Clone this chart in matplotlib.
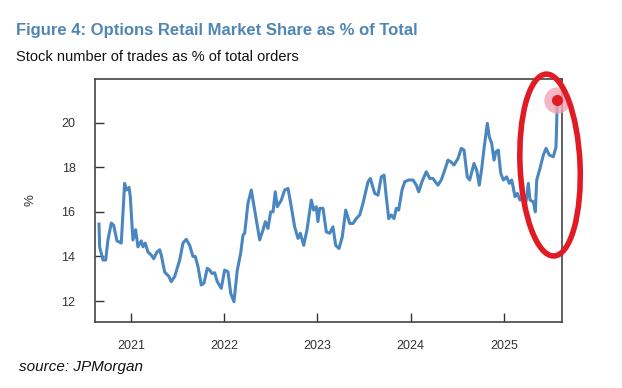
import matplotlib
matplotlib.use("Agg")
import matplotlib.pyplot as plt
import matplotlib.transforms as mtransforms
from matplotlib.patches import Ellipse
import numpy as np

plt.rcParams['font.family'] = ['Liberation Sans', 'DejaVu Sans']

# weekly-ish readings (decimal year, % of total orders)
years = [2020.657, 2020.664, 2020.700, 2020.729, 2020.753, 2020.789, 2020.814, 2020.850,
         2020.896, 2020.932, 2020.950, 2020.979, 2020.993, 2021.021, 2021.050, 2021.075,
         2021.111, 2021.129, 2021.153, 2021.182, 2021.218, 2021.244, 2021.279, 2021.308,
         2021.325, 2021.362, 2021.408, 2021.432, 2021.469, 2021.523, 2021.558, 2021.593,
         2021.630, 2021.665, 2021.690, 2021.719, 2021.754, 2021.783, 2021.819, 2021.844,
         2021.869, 2021.898, 2021.926, 2021.969, 2022.005, 2022.041, 2022.070, 2022.105,
         2022.141, 2022.177, 2022.202, 2022.220, 2022.255, 2022.291, 2022.327, 2022.381,
         2022.416, 2022.441, 2022.470, 2022.499, 2022.524, 2022.548, 2022.570, 2022.613,
         2022.649, 2022.685, 2022.720, 2022.756, 2022.792, 2022.817, 2022.853, 2022.888,
         2022.935, 2022.960, 2022.988, 2023.006, 2023.025, 2023.060, 2023.096, 2023.132,
         2023.167, 2023.196, 2023.232, 2023.267, 2023.304, 2023.347, 2023.382, 2023.417,
         2023.454, 2023.489, 2023.543, 2023.568, 2023.615, 2023.650, 2023.686, 2023.715,
         2023.739, 2023.765, 2023.793, 2023.822, 2023.847, 2023.872, 2023.908, 2023.937,
         2023.980, 2024.026, 2024.061, 2024.087, 2024.122, 2024.168, 2024.205, 2024.240,
         2024.265, 2024.294, 2024.329, 2024.366, 2024.401, 2024.430, 2024.466, 2024.509,
         2024.544, 2024.573, 2024.608, 2024.634, 2024.680, 2024.709, 2024.737, 2024.763,
         2024.788, 2024.809, 2024.823, 2024.844, 2024.870, 2024.895, 2024.916, 2024.941,
         2024.967, 2024.995, 2025.031, 2025.059, 2025.085, 2025.120, 2025.145, 2025.174,
         2025.209, 2025.238, 2025.263, 2025.281, 2025.317, 2025.338, 2025.353, 2025.388,
         2025.424, 2025.453, 2025.488, 2025.531, 2025.560, 2025.574]
share = [15.45, 14.43, 13.84, 13.84, 14.74, 15.50, 15.40, 14.70,
         14.60, 17.28, 16.98, 17.10, 16.68, 14.74, 15.20, 14.43,
         14.70, 14.43, 14.60, 14.20, 14.06, 13.90, 14.20, 14.30,
         14.06, 13.30, 13.10, 12.87, 13.10, 13.84, 14.60, 14.77,
         14.50, 14.00, 14.00, 13.54, 12.72, 12.80, 13.47, 13.39,
         13.24, 13.27, 12.87, 12.57, 13.39, 13.31, 12.35, 11.97,
         13.39, 14.14, 14.96, 15.04, 16.38, 16.98, 16.08, 14.74,
         15.18, 15.56, 15.26, 16.00, 16.00, 16.90, 16.23, 16.53,
         16.98, 17.05, 16.23, 15.33, 14.81, 15.04, 14.50, 15.18,
         16.53, 16.08, 16.23, 15.56, 16.16, 16.16, 15.10, 15.04,
         15.33, 14.50, 14.36, 14.88, 16.08, 15.48, 15.48, 15.70,
         15.86, 16.38, 17.35, 17.50, 16.83, 16.75, 17.57, 17.65,
         16.68, 15.70, 15.86, 15.70, 16.16, 16.08, 16.98, 17.35,
         17.43, 17.43, 17.20, 16.90, 17.35, 17.80, 17.50, 17.50,
         17.35, 17.20, 17.43, 17.87, 18.32, 18.25, 18.10, 18.40,
         18.85, 18.77, 17.57, 17.43, 18.17, 17.87, 17.20, 17.95,
         18.85, 19.52, 19.97, 19.37, 19.07, 18.32, 18.70, 18.77,
         17.73, 17.43, 17.57, 17.28, 17.43, 16.68, 16.83, 16.53,
         16.68, 16.45, 17.28, 16.53, 16.45, 16.00, 17.43, 17.95,
         18.55, 18.85, 18.55, 18.47, 18.92, 21.01]

year_ticks = [2021, 2022, 2023, 2024, 2025]
y_ticks = [12, 14, 16, 18, 20]

line_col = '#4a86bf'
title_col = '#4f86b3'
red = '#e01b24'

fig = plt.figure(figsize=(6.22, 3.88), dpi=100)
ax = fig.add_axes([0.1527, 0.1701, 0.7508, 0.6263])

ax.plot(years, share, color=line_col, lw=2.2, solid_joinstyle='round')

ax.set_xlim(2020.614, 2025.624)
ax.set_ylim(11.06, 21.96)
ax.set_xticks(year_ticks)
ax.set_xticklabels([str(y) for y in year_ticks])
ax.set_yticks(y_ticks)
ax.tick_params(direction='in', length=6.5, width=1.0, color='#333333',
               labelsize=9, labelcolor='#333333')
ax.tick_params(axis='x', pad=13)
ax.tick_params(axis='y', pad=14)
for s in ax.spines.values():
    s.set_color('#444444')
    s.set_linewidth(1.2)
ax.set_ylabel('%', fontsize=9.5, color='#333333', labelpad=18)

# highlighted last point
ax.plot(years[-1], share[-1], 'o', ms=19, color='#f3a3b3', alpha=0.8,
        mec='none', clip_on=False, zorder=4)
ax.plot(years[-1], share[-1], 'o', ms=8, color=red, mec='none',
        clip_on=False, zorder=5)

# hand-drawn style red ring around the latest move
ring_pos = mtransforms.Affine2D() + mtransforms.ScaledTranslation(2025.496, 18.10, ax.transData)
ring = Ellipse((0, 0), 60, 182, angle=2.5, fill=False, ec=red, lw=4,
               transform=ring_pos, clip_on=False, zorder=6)
ax.add_patch(ring)

fig.text(16/622, 1 - 30.5/388, 'Figure 4: Options Retail Market Share as % of Total',
         fontsize=12, fontweight='bold', color=title_col, va='center', ha='left')
fig.text(16/622, 1 - 57/388, 'Stock number of trades as % of total orders',
         fontsize=10.5, color='#111111', va='center', ha='left')
fig.text(19/622, 1 - 367/388, 'source: JPMorgan', fontsize=11, style='italic',
         color='#111111', va='center', ha='left')

fig.savefig('out.png', dpi=100)
